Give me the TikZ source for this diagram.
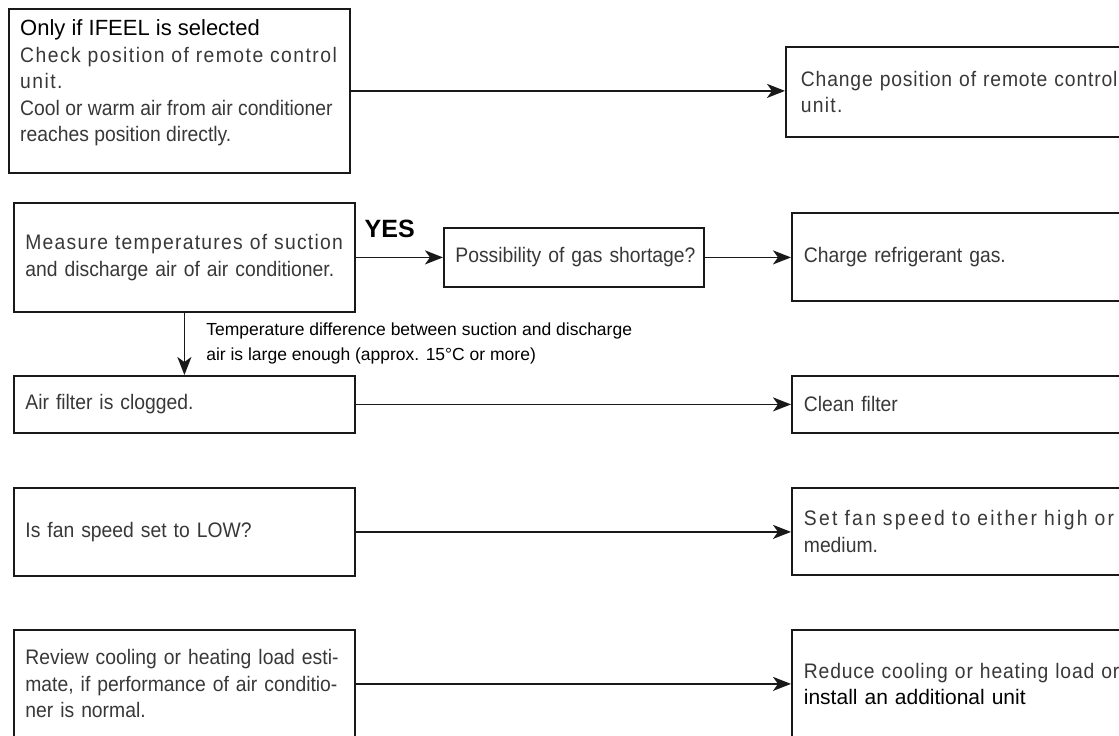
\documentclass[tikz,border=0pt]{standalone}
\usepackage{fontspec}
\setmainfont{Liberation Sans}
\newfontfamily\scannarrow{Liberation Sans}[FakeStretch=0.92]
\newfontfamily\scanwide{Liberation Sans}[FakeStretch=0.92,LetterSpace=6]
\usepackage{tikz}
\usetikzlibrary{arrows.meta,positioning}

\begin{document}
\begin{tikzpicture}[
  x=1pt, y=-1pt,
  font=\scannarrow\fontsize{21}{26.5}\selectfont,
  box/.style={draw=black!90, line width=1.8pt, align=left, anchor=north west, inner xsep=11pt, inner ysep=0pt, text=black!78},
  leftbox/.style={box, minimum width=341pt, text width=318pt},
  rightbox/.style={box, minimum width=380pt, text width=356pt},
  txt/.style={align=left, inner sep=0pt, text=black!78},
  note/.style={align=left, inner sep=2pt, fill=white, text=black, font=\normalfont\fontsize{17.5}{25}\selectfont},
  arrow/.style={-{Stealth[length=18pt,width=14pt,inset=5pt]}, line width=1.8pt, draw=black!90}
]
\clip (0,0) rectangle (1119,736);
\fill[white] (0,0) rectangle (1119,736);
% left column
\node[leftbox, minimum height=164pt] (ifeel) at (8,8) {};
\node[txt, anchor=north west] (ifeeltxt) at ([shift={(12,11.5)}]ifeel.north west)
  {{\color{black}\normalfont\fontsize{22}{26.5}\selectfont Only if IFEEL is selected}\\
   {\scanwide\addfontfeature{LetterSpace=7}\mbox{Check position of remote control}}\\
   {\scanwide\addfontfeature{LetterSpace=7}unit.}\\
   \mbox{Cool or warm air from air conditioner}\\
   reaches position directly.};
\node[leftbox, minimum height=109pt] (measure) at (13,202)
  {{\scanwide\mbox{Measure temperatures of suction}}\\ \mbox{and discharge air of air conditioner.}};
\node[leftbox, minimum height=57pt] (filter) at (13,375) {Air filter is clogged.};
\node[leftbox, minimum height=88pt] (fanlow) at (13,487) {Is fan speed set to LOW?};
\node[leftbox, minimum height=108pt] (review) at (13,629)
  {\makebox[318pt][s]{Review cooling or heating load esti-}\\
   \makebox[318pt][s]{mate, if performance of air conditio-}\\
   ner is normal.};
% middle
\node[box, minimum width=260pt, minimum height=59pt, text width=237pt] (gas) at (443,227) {\mbox{Possibility of gas shortage?}};
% right column
\node[rightbox, minimum width=386pt, minimum height=90pt] (chgpos) at (785,46)
  {{\scanwide\addfontfeature{LetterSpace=4}\mbox{Change position of remote control}}\\ {\scanwide unit.}};
\node[rightbox, minimum height=88pt] (charge) at (791,212) {Charge refrigerant gas.};
\node[rightbox, minimum height=57pt] (clean) at (791,375) {Clean filter};
\node[rightbox, minimum height=87pt] (setfan) at (791,487)
  {{\scanwide\addfontfeature{LetterSpace=11}\mbox{Set fan speed to either high or}}\\ medium.};
\node[rightbox, minimum height=108pt] (reduce) at (791,629)
  {{\scanwide\addfontfeature{LetterSpace=4}\mbox{Reduce cooling or heating load or}}\\ {\color{black}\normalfont install an additional unit}};
% connectors
\draw[arrow] (ifeel.east) -- (ifeel.east -| chgpos.west);
\draw[arrow] (measure.east) -- node[pos=0, anchor=south west, inner sep=0pt, xshift=8pt, yshift=19pt,
  font=\normalfont\bfseries\fontsize{25}{25}\selectfont] (yes) {YES} (measure.east -| gas.west);
\draw[arrow] (gas.east) -- (gas.east -| charge.west);
\draw[arrow] (measure) -- node[note, anchor=west, xshift=19pt] (tdiff)
  {Temperature difference between suction and discharge\\ air is large enough (approx. 15°C or more)} (filter);
\draw[arrow] (filter.east) -- (filter.east -| clean.west);
\draw[arrow] (fanlow.east) -- (fanlow.east -| setfan.west);
\draw[arrow] (review.east) -- (review.east -| reduce.west);
\end{tikzpicture}
\end{document}
